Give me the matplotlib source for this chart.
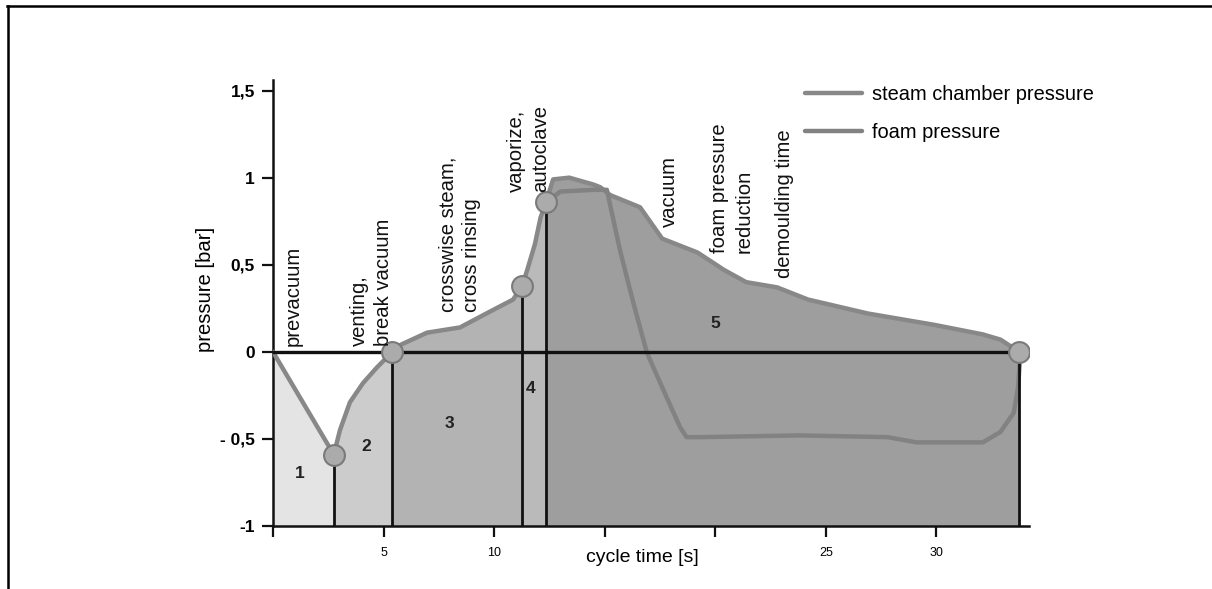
import matplotlib.pyplot as plt
import numpy as np
from matplotlib.lines import Line2D

plt.rcParams['font.family'] = ['Liberation Sans', 'DejaVu Sans']

# steam chamber pressure over the cycle [s, bar]
steam_t = [0.0, 2.75, 3.03, 3.48, 4.07, 4.7, 5.4, 5.6, 6.97, 8.46, 9.95, 10.86, 11.27,
           11.5, 11.85, 12.1, 12.35, 12.67, 13.4, 14.5, 14.8, 15.25, 16.6, 17.6, 19.2,
           20.4, 21.4, 22.8, 24.2, 26.9, 29.9, 32.1, 32.9, 33.75]
steam_p = [0.0, -0.59, -0.45, -0.29, -0.18, -0.09, 0.0, 0.03, 0.11, 0.14, 0.24, 0.30, 0.38,
           0.47, 0.62, 0.77, 0.86, 0.99, 1.0, 0.96, 0.945, 0.90, 0.83, 0.65, 0.57,
           0.47, 0.40, 0.37, 0.30, 0.22, 0.155, 0.10, 0.07, 0.0]

# foam pressure, starting at the autoclave step
foam_t = [12.35, 13.0, 14.5, 15.1, 15.7, 16.3, 16.9, 17.1, 17.8, 18.4, 18.7, 19.3,
          23.8, 27.8, 29.1, 32.1, 32.9, 33.5, 33.7, 33.8]
foam_p = [0.86, 0.92, 0.93, 0.93, 0.58, 0.28, 0.0, -0.06, -0.26, -0.43, -0.49, -0.49,
          -0.48, -0.49, -0.52, -0.52, -0.46, -0.35, -0.2, 0.0]

# phase boundaries (indices into steam_t) and fill shades
phase_idx = [0, 1, 6, 12, 16, 33]
phase_colors = ['#e4e4e4', '#cccccc', '#b3b3b3', '#bababa', '#9e9e9e']
phase_nums = ['1', '2', '3', '4', '5']
num_pos = [(1.22, -0.70), (4.2, -0.545), (8.0, -0.41), (11.67, -0.21), (20.0, 0.16)]

step_labels = ['prevacuum', 'venting,\nbreak vacuum', 'crosswise steam,\ncross rinsing',
               'vaporize,\nautoclave', 'vacuum', 'foam pressure\nreduction', 'demoulding time']
step_pos = [(0.9, 0.034), (4.45, 0.034), (8.45, 0.23), (11.55, 0.92),
            (17.95, 0.716), (20.75, 0.567), (23.15, 0.424)]

xticks = [0, 5, 10, 15, 20, 25, 30]
xtick_labels = ['', '5', '10', '', '', '25', '30']
yticks = [-1, -0.5, 0, 0.5, 1, 1.5]
ytick_labels = ['-1', '- 0,5', '0', '0,5', '1', '1,5']

fig = plt.figure(figsize=(12.12, 5.89), dpi=100)
ax = fig.add_axes([0.2252, 0.107, 0.624, 0.757])

t = np.array(steam_t)
p = np.array(steam_p)
for k in range(5):
    a, b = phase_idx[k], phase_idx[k + 1]
    ax.fill_between(t[a:b + 1], -1, p[a:b + 1], color=phase_colors[k], lw=0, zorder=1)
    ax.text(num_pos[k][0], num_pos[k][1], phase_nums[k], fontsize=12.5, fontweight='bold',
            ha='center', va='center', color='#222222', zorder=6)

ax.plot(steam_t, steam_p, color='#888888', lw=3.2, solid_capstyle='round', zorder=3,
        label='steam chamber pressure')
ax.plot(foam_t, foam_p, color='#828282', lw=3.2, solid_capstyle='round', zorder=3,
        label='foam pressure')

# zero line and phase separators
ax.plot([steam_t[0], steam_t[-1]], [0, 0], color='#111111', lw=2.4, zorder=4)
for i in phase_idx[1:]:
    ax.plot([steam_t[i], steam_t[i]], [-1, steam_p[i]], color='#111111', lw=2, zorder=4)
    ax.plot(steam_t[i], steam_p[i], 'o', ms=15, mfc='#ababab', mec='#7a7a7a', mew=1.5, zorder=5)

for s, (x, y) in zip(step_labels, step_pos):
    ax.text(x, y, s, rotation=90, ha='center', va='bottom', multialignment='left',
            fontsize=14.6, color='#111111', linespacing=1.35, zorder=6)

ax.set_xlim(0, 34.2)
ax.set_ylim(-1, 1.56)
ax.set_xticks(xticks)
ax.set_xticklabels(xtick_labels, fontsize=9)
ax.set_yticks(yticks)
ax.set_yticklabels(ytick_labels, fontsize=12.5, fontweight='bold')
ax.tick_params(axis='x', length=8, width=1.6, pad=7, color='#111111')
ax.tick_params(axis='y', length=8, width=1.6, pad=5, color='#111111')
for side in ['top', 'right']:
    ax.spines[side].set_visible(False)
for side in ['left', 'bottom']:
    ax.spines[side].set_linewidth(1.8)
    ax.spines[side].set_color('#111111')

ax.set_xlabel('cycle time [s]', fontsize=14)
ax.xaxis.set_label_coords(0.488, -0.052)
ax.set_ylabel('pressure [bar]', fontsize=14.6)
ax.yaxis.set_label_coords(-0.077, 0.53)

ax.legend(loc='upper left', bbox_to_anchor=(0.664, 0.855), bbox_transform=fig.transFigure,
          frameon=False, fontsize=14.4, handlelength=2.85, handletextpad=0.5,
          labelspacing=0.92, borderpad=0, borderaxespad=0)

# outer frame lines, top and left
fig.add_artist(Line2D([0.006, 1.0], [0.989, 0.989], transform=fig.transFigure, color='black', lw=1.8))
fig.add_artist(Line2D([0.0062, 0.0062], [0.0, 0.989], transform=fig.transFigure, color='black', lw=1.8))

fig.savefig('out.png', dpi=100)
